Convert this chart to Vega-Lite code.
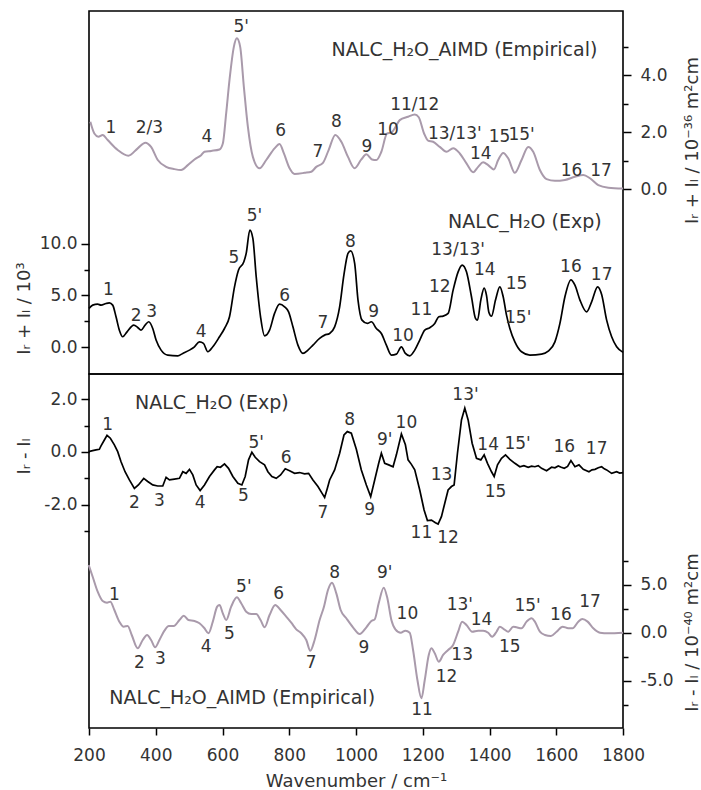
{
"$schema": "https://vega.github.io/schema/vega-lite/v6.json",
"padding": {"left": 14, "top": 10, "right": 0, "bottom": 0},
"config": {
  "view": {"stroke": "#000", "strokeWidth": 1.6},
  "font": "DejaVu Sans",
  "axis": {"labelFont": "DejaVu Sans", "labelFontSize": 17, "labelColor": "#333", "titleFont": "DejaVu Sans", "titleFontSize": 18, "titleFontWeight": "normal", "titleColor": "#333", "tickColor": "#000", "tickWidth": 1.5, "tickSize": 7, "domain": false, "grid": false},
  "text": {"font": "DejaVu Sans", "fontSize": 17, "fill": "#333"}
},
"datasets": {
  "topAimd": [
    {"w":204,"v":2.37},{"w":216,"v":1.96},{"w":228,"v":1.85},{"w":241,"v":1.91},{"w":256,"v":1.73},{"w":286,"v":1.38},{"w":318,"v":1.18},{"w":346,"v":1.44},{"w":369,"v":1.64},{"w":386,"v":1.49},{"w":406,"v":1.03},{"w":431,"v":0.79},{"w":456,"v":0.71},{"w":476,"v":0.68},{"w":496,"v":0.85},{"w":516,"v":1.05},{"w":536,"v":1.20},{"w":546,"v":1.32},{"w":566,"v":1.35},{"w":591,"v":1.40},{"w":601,"v":1.61},{"w":611,"v":2.67},{"w":621,"v":3.84},{"w":634,"v":5.00},{"w":643,"v":5.30},{"w":653,"v":5.00},{"w":664,"v":3.60},{"w":676,"v":2.20},{"w":691,"v":1.14},{"w":711,"v":0.74},{"w":731,"v":1.03},{"w":756,"v":1.44},{"w":771,"v":1.59},{"w":784,"v":1.26},{"w":801,"v":0.74},{"w":816,"v":0.54},{"w":846,"v":0.58},{"w":866,"v":0.62},{"w":881,"v":0.79},{"w":901,"v":0.93},{"w":918,"v":1.38},{"w":938,"v":1.91},{"w":956,"v":1.67},{"w":976,"v":1.14},{"w":996,"v":0.74},{"w":1016,"v":1.05},{"w":1031,"v":1.23},{"w":1048,"v":1.05},{"w":1061,"v":1.03},{"w":1076,"v":1.32},{"w":1093,"v":1.96},{"w":1106,"v":1.99},{"w":1116,"v":2.14},{"w":1131,"v":2.43},{"w":1156,"v":2.55},{"w":1176,"v":2.63},{"w":1188,"v":2.53},{"w":1204,"v":1.96},{"w":1216,"v":1.71},{"w":1231,"v":1.67},{"w":1251,"v":1.49},{"w":1271,"v":1.32},{"w":1291,"v":1.44},{"w":1311,"v":1.26},{"w":1331,"v":0.91},{"w":1351,"v":0.60},{"w":1366,"v":0.79},{"w":1381,"v":0.95},{"w":1396,"v":0.85},{"w":1413,"v":0.70},{"w":1426,"v":1.03},{"w":1441,"v":1.28},{"w":1456,"v":1.09},{"w":1476,"v":0.58},{"w":1496,"v":1.03},{"w":1516,"v":1.49},{"w":1531,"v":1.32},{"w":1551,"v":0.68},{"w":1571,"v":0.36},{"w":1596,"v":0.30},{"w":1626,"v":0.33},{"w":1656,"v":0.44},{"w":1681,"v":0.50},{"w":1701,"v":0.39},{"w":1726,"v":0.15},{"w":1756,"v":0.06},{"w":1800,"v":0.03}
  ],
  "topAimdLab": [
    {"w":266,"v":2.17,"t":"1"},{"w":381,"v":2.17,"t":"2/3"},{"w":553,"v":1.85,"t":"4"},{"w":656,"v":5.71,"t":"5'"},{"w":774,"v":2.06,"t":"6"},{"w":886,"v":1.32,"t":"7"},{"w":941,"v":2.37,"t":"8"},{"w":1033,"v":1.49,"t":"9"},{"w":1096,"v":2.08,"t":"10"},{"w":1176,"v":2.96,"t":"11/12"},{"w":1296,"v":1.96,"t":"13/13'"},{"w":1374,"v":1.24,"t":"14"},{"w":1430,"v":1.85,"t":"15"},{"w":1496,"v":1.91,"t":"15'"},{"w":1646,"v":0.65,"t":"16"},{"w":1734,"v":0.65,"t":"17"}
  ],
  "topAimdTitle": [{"w":1325,"v":4.89,"t":"NALC_H₂O_AIMD (Empirical)"}],
  "topExp": [
    {"w":200,"v":3.74},{"w":211,"v":4.06},{"w":226,"v":4.16},{"w":236,"v":4.06},{"w":251,"v":4.22},{"w":261,"v":4.28},{"w":271,"v":4.06},{"w":281,"v":2.93},{"w":291,"v":1.64},{"w":301,"v":1.00},{"w":314,"v":1.48},{"w":334,"v":2.13},{"w":346,"v":1.90},{"w":356,"v":1.64},{"w":368,"v":2.13},{"w":379,"v":2.45},{"w":391,"v":1.80},{"w":401,"v":0.68},{"w":416,"v":-0.29},{"w":436,"v":-0.77},{"w":466,"v":-0.84},{"w":481,"v":-0.61},{"w":501,"v":-0.29},{"w":516,"v":0.03},{"w":531,"v":0.51},{"w":543,"v":0.36},{"w":556,"v":-0.45},{"w":571,"v":0.03},{"w":591,"v":1.00},{"w":606,"v":1.80},{"w":621,"v":2.93},{"w":636,"v":5.83},{"w":648,"v":7.45},{"w":664,"v":8.25},{"w":671,"v":9.06},{"w":682,"v":11.32},{"w":691,"v":10.51},{"w":701,"v":6.80},{"w":714,"v":2.93},{"w":726,"v":1.09},{"w":741,"v":1.64},{"w":756,"v":3.26},{"w":771,"v":4.16},{"w":786,"v":3.90},{"w":798,"v":3.41},{"w":811,"v":1.96},{"w":826,"v":0.19},{"w":841,"v":-0.61},{"w":856,"v":-0.29},{"w":871,"v":0.19},{"w":891,"v":0.84},{"w":906,"v":1.16},{"w":921,"v":1.32},{"w":936,"v":1.96},{"w":951,"v":3.90},{"w":964,"v":7.03},{"w":976,"v":9.06},{"w":984,"v":9.31},{"w":996,"v":8.09},{"w":1006,"v":4.55},{"w":1018,"v":2.61},{"w":1034,"v":2.29},{"w":1046,"v":2.45},{"w":1061,"v":1.80},{"w":1076,"v":1.32},{"w":1091,"v":0.19},{"w":1106,"v":-0.77},{"w":1121,"v":-0.68},{"w":1136,"v":0.03},{"w":1148,"v":-0.61},{"w":1161,"v":-0.84},{"w":1176,"v":-0.29},{"w":1191,"v":0.68},{"w":1206,"v":1.64},{"w":1221,"v":1.87},{"w":1236,"v":2.29},{"w":1248,"v":2.93},{"w":1261,"v":3.00},{"w":1276,"v":3.26},{"w":1291,"v":5.51},{"w":1306,"v":7.28},{"w":1318,"v":7.93},{"w":1331,"v":7.28},{"w":1346,"v":4.87},{"w":1358,"v":2.78},{"w":1364,"v":2.61},{"w":1374,"v":4.55},{"w":1384,"v":5.71},{"w":1391,"v":5.00},{"w":1398,"v":3.38},{"w":1406,"v":3.00},{"w":1418,"v":4.55},{"w":1431,"v":5.83},{"w":1441,"v":4.87},{"w":1451,"v":3.09},{"w":1461,"v":1.80},{"w":1476,"v":0.51},{"w":1496,"v":-0.45},{"w":1521,"v":-0.77},{"w":1556,"v":-0.68},{"w":1576,"v":-0.39},{"w":1596,"v":0.51},{"w":1611,"v":2.29},{"w":1626,"v":4.87},{"w":1644,"v":6.51},{"w":1656,"v":5.99},{"w":1671,"v":4.55},{"w":1691,"v":3.41},{"w":1706,"v":4.38},{"w":1724,"v":5.83},{"w":1736,"v":5.09},{"w":1751,"v":2.61},{"w":1766,"v":1.00},{"w":1781,"v":0.03},{"w":1800,"v":-0.51}
  ],
  "topExpLab": [
    {"w":258,"v":5.51,"t":"1"},{"w":341,"v":3.00,"t":"2"},{"w":388,"v":3.35,"t":"3"},{"w":536,"v":1.48,"t":"4"},{"w":634,"v":8.58,"t":"5"},{"w":696,"v":12.67,"t":"5'"},{"w":786,"v":4.93,"t":"6"},{"w":901,"v":2.29,"t":"7"},{"w":983,"v":10.19,"t":"8"},{"w":1053,"v":3.42,"t":"9"},{"w":1141,"v":1.06,"t":"10"},{"w":1196,"v":3.58,"t":"11"},{"w":1251,"v":5.83,"t":"12"},{"w":1306,"v":9.38,"t":"13/13'"},{"w":1386,"v":7.45,"t":"14"},{"w":1481,"v":6.06,"t":"15"},{"w":1486,"v":2.78,"t":"15'"},{"w":1644,"v":7.71,"t":"16"},{"w":1736,"v":6.96,"t":"17"}
  ],
  "topExpTitle": [{"w":1506,"v":12.12,"t":"NALC_H₂O (Exp)"}],
  "botExp": [
    {"w":199,"v":0.01},{"w":211,"v":0.05},{"w":221,"v":0.08},{"w":231,"v":0.10},{"w":236,"v":0.23},{"w":246,"v":0.45},{"w":254,"v":0.63},{"w":264,"v":0.52},{"w":276,"v":0.27},{"w":286,"v":0.01},{"w":296,"v":-0.37},{"w":308,"v":-0.75},{"w":321,"v":-1.06},{"w":336,"v":-1.38},{"w":348,"v":-1.25},{"w":364,"v":-1.00},{"w":376,"v":-1.12},{"w":391,"v":-1.25},{"w":406,"v":-1.29},{"w":421,"v":-1.29},{"w":431,"v":-0.96},{"w":441,"v":-1.06},{"w":456,"v":-1.03},{"w":471,"v":-1.00},{"w":481,"v":-0.75},{"w":491,"v":-0.81},{"w":501,"v":-0.66},{"w":511,"v":-0.87},{"w":521,"v":-1.25},{"w":533,"v":-1.46},{"w":546,"v":-1.25},{"w":561,"v":-0.93},{"w":576,"v":-0.68},{"w":584,"v":-0.56},{"w":594,"v":-0.58},{"w":606,"v":-0.45},{"w":618,"v":-0.62},{"w":631,"v":-0.93},{"w":646,"v":-1.19},{"w":658,"v":-1.25},{"w":668,"v":-0.93},{"w":678,"v":-0.30},{"w":688,"v":-0.01},{"w":698,"v":-0.20},{"w":711,"v":-0.37},{"w":726,"v":-0.49},{"w":736,"v":-0.75},{"w":748,"v":-0.93},{"w":761,"v":-1.00},{"w":774,"v":-0.87},{"w":788,"v":-0.64},{"w":801,"v":-0.71},{"w":816,"v":-0.81},{"w":831,"v":-0.78},{"w":846,"v":-0.83},{"w":858,"v":-0.81},{"w":871,"v":-1.06},{"w":886,"v":-1.31},{"w":898,"v":-1.56},{"w":906,"v":-1.72},{"w":914,"v":-1.38},{"w":921,"v":-1.06},{"w":936,"v":-0.68},{"w":951,"v":-0.05},{"w":964,"v":0.64},{"w":974,"v":0.77},{"w":986,"v":0.71},{"w":1001,"v":0.10},{"w":1016,"v":-0.68},{"w":1031,"v":-1.25},{"w":1044,"v":-1.69},{"w":1056,"v":-1.06},{"w":1068,"v":-0.43},{"w":1076,"v":-0.05},{"w":1086,"v":-0.43},{"w":1098,"v":-0.49},{"w":1111,"v":-0.56},{"w":1121,"v":-0.11},{"w":1136,"v":0.68},{"w":1148,"v":0.27},{"w":1156,"v":-0.30},{"w":1166,"v":-0.47},{"w":1176,"v":-0.68},{"w":1191,"v":-1.44},{"w":1204,"v":-2.20},{"w":1214,"v":-2.60},{"w":1226,"v":-2.58},{"w":1238,"v":-2.68},{"w":1246,"v":-2.73},{"w":1256,"v":-2.45},{"w":1266,"v":-1.94},{"w":1276,"v":-1.44},{"w":1286,"v":-1.31},{"w":1294,"v":-1.25},{"w":1304,"v":-0.05},{"w":1316,"v":1.21},{"w":1326,"v":1.66},{"w":1336,"v":1.21},{"w":1348,"v":0.33},{"w":1361,"v":-0.24},{"w":1374,"v":-0.30},{"w":1384,"v":-0.11},{"w":1394,"v":-0.43},{"w":1406,"v":-0.75},{"w":1414,"v":-0.93},{"w":1424,"v":-0.49},{"w":1436,"v":-0.24},{"w":1448,"v":-0.11},{"w":1461,"v":-0.28},{"w":1476,"v":-0.43},{"w":1491,"v":-0.56},{"w":1503,"v":-0.52},{"w":1516,"v":-0.58},{"w":1526,"v":-0.54},{"w":1536,"v":-0.56},{"w":1546,"v":-0.52},{"w":1556,"v":-0.62},{"w":1571,"v":-0.71},{"w":1586,"v":-0.58},{"w":1596,"v":-0.60},{"w":1606,"v":-0.53},{"w":1615,"v":-0.58},{"w":1624,"v":-0.62},{"w":1634,"v":-0.55},{"w":1644,"v":-0.33},{"w":1656,"v":-0.56},{"w":1668,"v":-0.49},{"w":1681,"v":-0.66},{"w":1698,"v":-0.75},{"w":1707,"v":-0.68},{"w":1716,"v":-0.66},{"w":1726,"v":-0.60},{"w":1736,"v":-0.56},{"w":1744,"v":-0.64},{"w":1751,"v":-0.68},{"w":1766,"v":-0.81},{"w":1781,"v":-0.75},{"w":1790,"v":-0.80},{"w":1800,"v":-0.78}
  ],
  "botExpLab": [
    {"w":256,"v":1.02,"t":"1"},{"w":336,"v":-1.92,"t":"2"},{"w":411,"v":-1.84,"t":"3"},{"w":533,"v":-1.94,"t":"4"},{"w":663,"v":-1.67,"t":"5"},{"w":701,"v":0.33,"t":"5'"},{"w":791,"v":-0.24,"t":"6"},{"w":901,"v":-2.32,"t":"7"},{"w":981,"v":1.21,"t":"8"},{"w":1041,"v":-2.20,"t":"9"},{"w":1086,"v":0.45,"t":"9'"},{"w":1151,"v":1.11,"t":"10"},{"w":1196,"v":-3.08,"t":"11"},{"w":1276,"v":-3.27,"t":"12"},{"w":1256,"v":-0.87,"t":"13"},{"w":1328,"v":2.16,"t":"13'"},{"w":1396,"v":0.27,"t":"14"},{"w":1418,"v":-1.50,"t":"15"},{"w":1484,"v":0.30,"t":"15'"},{"w":1624,"v":0.18,"t":"16"},{"w":1721,"v":0.11,"t":"17"}
  ],
  "botExpTitle": [{"w":568,"v":1.84,"t":"NALC_H₂O (Exp)"}],
  "botAimd": [
    {"w":199,"v":7.05},{"w":211,"v":5.83},{"w":226,"v":4.27},{"w":241,"v":3.30},{"w":254,"v":3.13},{"w":264,"v":3.23},{"w":276,"v":2.36},{"w":291,"v":1.15},{"w":304,"v":0.63},{"w":316,"v":0.70},{"w":328,"v":-0.24},{"w":346,"v":-1.63},{"w":361,"v":-0.76},{"w":374,"v":-0.24},{"w":386,"v":-0.76},{"w":398,"v":-1.52},{"w":411,"v":-0.76},{"w":426,"v":0.21},{"w":439,"v":0.70},{"w":454,"v":0.70},{"w":471,"v":1.32},{"w":484,"v":1.77},{"w":498,"v":1.32},{"w":516,"v":1.22},{"w":531,"v":0.98},{"w":546,"v":0.46},{"w":558,"v":-0.06},{"w":571,"v":1.15},{"w":584,"v":2.71},{"w":591,"v":2.89},{"w":601,"v":2.02},{"w":611,"v":1.32},{"w":626,"v":2.71},{"w":643,"v":3.68},{"w":656,"v":3.06},{"w":671,"v":2.19},{"w":686,"v":1.95},{"w":701,"v":1.95},{"w":714,"v":1.32},{"w":726,"v":0.56},{"w":741,"v":1.84},{"w":758,"v":2.89},{"w":774,"v":2.36},{"w":791,"v":1.67},{"w":806,"v":1.04},{"w":821,"v":0.35},{"w":836,"v":-0.06},{"w":851,"v":-0.76},{"w":863,"v":-1.88},{"w":876,"v":-0.76},{"w":891,"v":1.32},{"w":904,"v":2.71},{"w":916,"v":4.45},{"w":928,"v":5.21},{"w":941,"v":4.10},{"w":954,"v":2.36},{"w":971,"v":1.50},{"w":991,"v":0.56},{"w":1011,"v":-0.14},{"w":1031,"v":0.56},{"w":1046,"v":1.22},{"w":1056,"v":1.39},{"w":1068,"v":3.06},{"w":1083,"v":4.69},{"w":1094,"v":3.58},{"w":1106,"v":1.32},{"w":1118,"v":0.35},{"w":1134,"v":0.00},{"w":1148,"v":0.21},{"w":1161,"v":0.00},{"w":1171,"v":-1.80},{"w":1184,"v":-4.93},{"w":1196,"v":-6.84},{"w":1206,"v":-4.93},{"w":1218,"v":-2.32},{"w":1226,"v":-1.63},{"w":1236,"v":-2.15},{"w":1248,"v":-3.02},{"w":1261,"v":-2.32},{"w":1276,"v":-1.80},{"w":1291,"v":-1.28},{"w":1306,"v":0.10},{"w":1318,"v":1.15},{"w":1331,"v":0.80},{"w":1348,"v":0.10},{"w":1366,"v":0.21},{"w":1381,"v":0.21},{"w":1396,"v":0.00},{"w":1408,"v":-0.42},{"w":1421,"v":0.10},{"w":1431,"v":0.63},{"w":1444,"v":0.35},{"w":1456,"v":0.10},{"w":1471,"v":0.63},{"w":1481,"v":0.56},{"w":1496,"v":0.46},{"w":1511,"v":1.15},{"w":1526,"v":1.50},{"w":1536,"v":1.15},{"w":1551,"v":0.10},{"w":1566,"v":-0.24},{"w":1584,"v":-0.35},{"w":1601,"v":0.10},{"w":1619,"v":0.63},{"w":1636,"v":0.46},{"w":1649,"v":0.46},{"w":1666,"v":1.15},{"w":1678,"v":1.43},{"w":1694,"v":1.15},{"w":1711,"v":0.46},{"w":1731,"v":0.00},{"w":1756,"v":-0.07},{"w":1800,"v":0.00}
  ],
  "botAimdLab": [
    {"w":276,"v":3.93,"t":"1"},{"w":351,"v":-3.13,"t":"2"},{"w":414,"v":-2.77,"t":"3"},{"w":551,"v":-1.46,"t":"4"},{"w":621,"v":-0.17,"t":"5"},{"w":664,"v":4.73,"t":"5'"},{"w":768,"v":4.03,"t":"6"},{"w":866,"v":-3.19,"t":"7"},{"w":936,"v":6.19,"t":"8"},{"w":1024,"v":-1.63,"t":"9"},{"w":1086,"v":6.19,"t":"9'"},{"w":1154,"v":1.95,"t":"10"},{"w":1198,"v":-8.05,"t":"11"},{"w":1271,"v":-4.58,"t":"12"},{"w":1318,"v":-2.32,"t":"13"},{"w":1311,"v":2.89,"t":"13'"},{"w":1376,"v":1.32,"t":"14"},{"w":1461,"v":-1.53,"t":"15"},{"w":1514,"v":2.78,"t":"15'"},{"w":1614,"v":1.84,"t":"16"},{"w":1701,"v":3.23,"t":"17"}
  ],
  "botAimdTitle": [{"w":659,"v":-6.77,"t":"NALC_H₂O_AIMD (Empirical)"}]
},
"spacing": 0,
"bounds": "flush",
"vconcat": [
  {
    "width": 534, "height": 363,
    "resolve": {"scale": {"y": "independent"}, "axis": {"y": "independent"}},
    "layer": [
      {
        "encoding": {
          "x": {"field": "w", "type": "quantitative", "scale": {"domain": [200, 1800], "nice": false, "zero": false}, "axis": null},
          "y": {"field": "v", "type": "quantitative", "scale": {"domain": [-2.6, 32.5], "nice": false, "zero": false},
                "axis": {"orient": "left", "values": [0, 2.5, 5, 7.5, 10], "labelExpr": "datum.value % 5 === 0 ? format(datum.value, '.1f') : ''", "tickSize": {"condition": {"test": "datum.value % 5 === 0", "value": 8}, "value": 5}, "labelPadding": 4, "title": "Iᵣ + Iₗ / 10³", "titleAngle": 270, "titleBaseline": "middle", "titleX": -65, "titleY": 297}}
        },
        "layer": [
          {"data": {"name": "topExp"}, "mark": {"type": "line", "color": "#000", "strokeWidth": 1.7, "interpolate": "monotone"}},
          {"data": {"name": "topExpLab"}, "mark": {"type": "text", "align": "center", "baseline": "middle"}, "encoding": {"text": {"field": "t", "type": "nominal"}}},
          {"data": {"name": "topExpTitle"}, "mark": {"type": "text", "align": "center", "baseline": "middle", "fontSize": 19}, "encoding": {"text": {"field": "t", "type": "nominal"}}}
        ]
      },
      {
        "encoding": {
          "x": {"field": "w", "type": "quantitative", "scale": {"domain": [200, 1800], "nice": false, "zero": false}, "axis": null},
          "y": {"field": "v", "type": "quantitative", "scale": {"domain": [-6.48, 6.26], "nice": false, "zero": false},
                "axis": {"orient": "right", "values": [0, 1, 2, 3, 4, 5], "labelExpr": "datum.value % 2 === 0 ? format(datum.value, '.1f') : ''", "tickSize": {"condition": {"test": "datum.value % 2 === 0", "value": 8}, "value": 5}, "labelPadding": 9, "title": "Iᵣ + Iₗ / 10⁻³⁶ m²cm", "titleAngle": 270, "titleBaseline": "middle", "titleX": 69, "titleY": 129}}
        },
        "layer": [
          {"data": {"name": "topAimd"}, "mark": {"type": "line", "color": "#a99aab", "strokeWidth": 2, "interpolate": "monotone"}},
          {"data": {"name": "topAimdLab"}, "mark": {"type": "text", "align": "center", "baseline": "middle"}, "encoding": {"text": {"field": "t", "type": "nominal"}}},
          {"data": {"name": "topAimdTitle"}, "mark": {"type": "text", "align": "center", "baseline": "middle", "fontSize": 19}, "encoding": {"text": {"field": "t", "type": "nominal"}}}
        ]
      }
    ]
  },
  {
    "width": 534, "height": 354,
    "resolve": {"scale": {"y": "independent"}, "axis": {"y": "independent"}},
    "layer": [
      {
        "encoding": {
          "x": {"field": "w", "type": "quantitative", "scale": {"domain": [200, 1800], "nice": false, "zero": false},
                "axis": {"values": [200,300,400,500,600,700,800,900,1000,1100,1200,1300,1400,1500,1600,1700,1800], "labelExpr": "datum.value % 200 === 0 ? datum.value : ''", "tickSize": {"condition": {"test": "datum.value % 200 === 0", "value": 7}, "value": 4}, "labelPadding": 12, "labelFlush": false, "title": "Wavenumber / cm⁻¹", "titlePadding": 9}},
          "y": {"field": "v", "type": "quantitative", "scale": {"domain": [-10.45, 2.95], "nice": false, "zero": false},
                "axis": {"orient": "left", "values": [-3, -2, -1, 0, 1, 2], "labelExpr": "datum.value % 2 === 0 ? replace(format(datum.value, '.1f'), '−', '-') : ''", "tickSize": {"condition": {"test": "datum.value % 2 === 0", "value": 8}, "value": 5}, "labelPadding": 4, "title": "Iᵣ - Iₗ", "titleAngle": 270, "titleBaseline": "middle", "titleX": -65, "titleY": 82}}
        },
        "layer": [
          {"data": {"name": "botExp"}, "mark": {"type": "line", "color": "#000", "strokeWidth": 1.7}},
          {"data": {"name": "botExpLab"}, "mark": {"type": "text", "align": "center", "baseline": "middle"}, "encoding": {"text": {"field": "t", "type": "nominal"}}},
          {"data": {"name": "botExpTitle"}, "mark": {"type": "text", "align": "center", "baseline": "middle", "fontSize": 19}, "encoding": {"text": {"field": "t", "type": "nominal"}}}
        ]
      },
      {
        "encoding": {
          "x": {"field": "w", "type": "quantitative", "scale": {"domain": [200, 1800], "nice": false, "zero": false}},
          "y": {"field": "v", "type": "quantitative", "scale": {"domain": [-9.93, 26.95], "nice": false, "zero": false},
                "axis": {"orient": "right", "values": [-7.5, -5, -2.5, 0, 2.5, 5, 7.5], "labelExpr": "datum.value % 5 === 0 ? replace(format(datum.value, '.1f'), '−', '-') : ''", "tickSize": {"condition": {"test": "datum.value % 5 === 0", "value": 8}, "value": 5}, "labelPadding": 9, "title": "Iᵣ - Iₗ / 10⁻⁴⁰ m²cm", "titleAngle": 270, "titleBaseline": "middle", "titleX": 69, "titleY": 258}}
        },
        "layer": [
          {"data": {"name": "botAimd"}, "mark": {"type": "line", "color": "#a99aab", "strokeWidth": 2, "interpolate": "monotone"}},
          {"data": {"name": "botAimdLab"}, "mark": {"type": "text", "align": "center", "baseline": "middle"}, "encoding": {"text": {"field": "t", "type": "nominal"}}},
          {"data": {"name": "botAimdTitle"}, "mark": {"type": "text", "align": "center", "baseline": "middle", "fontSize": 19}, "encoding": {"text": {"field": "t", "type": "nominal"}}}
        ]
      }
    ]
  }
]
}
